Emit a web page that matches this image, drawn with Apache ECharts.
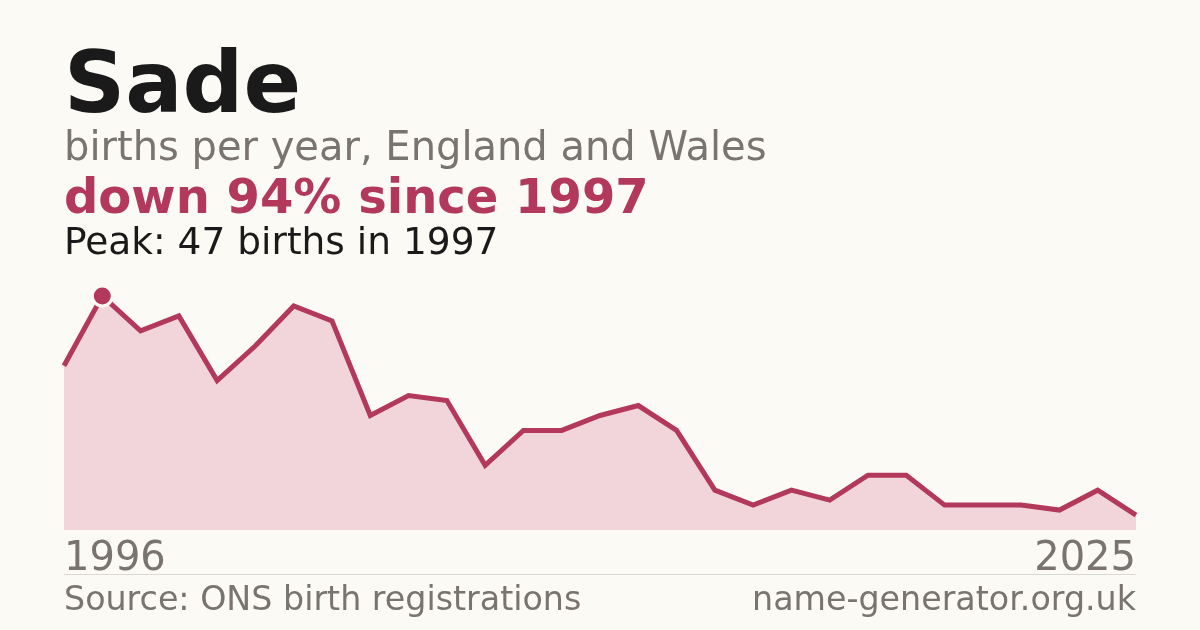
<!DOCTYPE html>
<html>
<head>
<meta charset="utf-8">
<script src="https://cdn.jsdelivr.net/npm/echarts@6/dist/echarts.min.js"></script>
<style>
html,body{margin:0;padding:0;background:#fbfaf5;}
#c{width:1200px;height:630px;}
</style>
</head>
<body>
<div id="c"></div>
<script>
const years = [1996,1997,1998,1999,2000,2001,2002,2003,2004,2005,2006,2007,2008,2009,2010,2011,2012,2013,2014,2015,2016,2017,2018,2019,2020,2021,2022,2023,2024];
const births = [33,47,40,43,30,37,45,42,23,27,26,13,20,20,23,25,20,8,5,8,6,11,11,5,5,5,4,8,3];
const startLabel = "1996";
const endLabel = "2025";
const titleText = "Sade";
const subtitleText = "births per year, England and Wales";
const changeText = "down 94% since 1997";
const peakText = "Peak: 47 births in 1997";
const sourceText = "Source: ONS birth registrations";
const siteText = "name-generator.org.uk";

const FONT = "'DejaVu Sans', sans-serif";
const RED = '#b3395a';
const GREY = '#79746d';
const peakVal = Math.max(...births);
const peakIdx = births.indexOf(peakVal);

const chart = echarts.init(document.getElementById('c'), null, {renderer:'canvas'});
chart.setOption({
  backgroundColor: '#fbfaf5',
  animation: false,
  grid: {left: 64, right: 64, top: 296, bottom: 100},
  xAxis: {type: 'category', data: years.map(String), boundaryGap: false, show: false},
  yAxis: {type: 'value', min: 0, max: peakVal, show: false},
  series: [
    {
      type: 'line',
      data: births,
      showSymbol: false,
      lineStyle: {color: RED, width: 5, join: 'miter'},
      areaStyle: {color: '#f2d5db', opacity: 1},
      emphasis: {disabled: true},
      z: 2
    },
    {
      type: 'scatter',
      data: [[peakIdx, peakVal]],
      symbol: 'circle',
      symbolSize: 20,
      itemStyle: {color: RED, opacity: 1, borderColor: '#fbfaf5', borderWidth: 3},
      emphasis: {disabled: true},
      z: 5
    }
  ],
  graphic: [
    {type:'text', left: 64, top: 47.5, style:{text: titleText, font: "bold 85px " + FONT, fill:'#1a1a1a'}},
    {type:'text', x: 64, y: 149.5, style:{text: subtitleText, font: "40px " + FONT, fill: GREY, verticalAlign:'middle'}},
    {type:'text', x: 64, y: 201, style:{text: changeText, font: "bold 48px " + FONT, fill: RED, verticalAlign:'middle'}},
    {type:'text', x: 64, y: 244, style:{text: peakText, font: "37.5px " + FONT, fill: '#1a1a1a', verticalAlign:'middle'}},
    {type:'text', x: 64, y: 559.5, style:{text: startLabel, font: "40px " + FONT, fill: GREY, verticalAlign:'middle'}},
    {type:'text', x: 1136, y: 559.5, style:{text: endLabel, font: "40px " + FONT, fill: GREY, verticalAlign:'middle', align:'right'}},
    {type:'line', shape:{x1:64, y1:574.5, x2:1136, y2:574.5}, style:{stroke:'#dcd9d2', lineWidth:1}},
    {type:'text', x: 64, y: 601, style:{text: sourceText, font: "33.3px " + FONT, fill: GREY, verticalAlign:'middle'}},
    {type:'text', x: 1136, y: 601, style:{text: siteText, font: "33.3px " + FONT, fill: GREY, verticalAlign:'middle', align:'right'}}
  ]
});
</script>
</body>
</html>
